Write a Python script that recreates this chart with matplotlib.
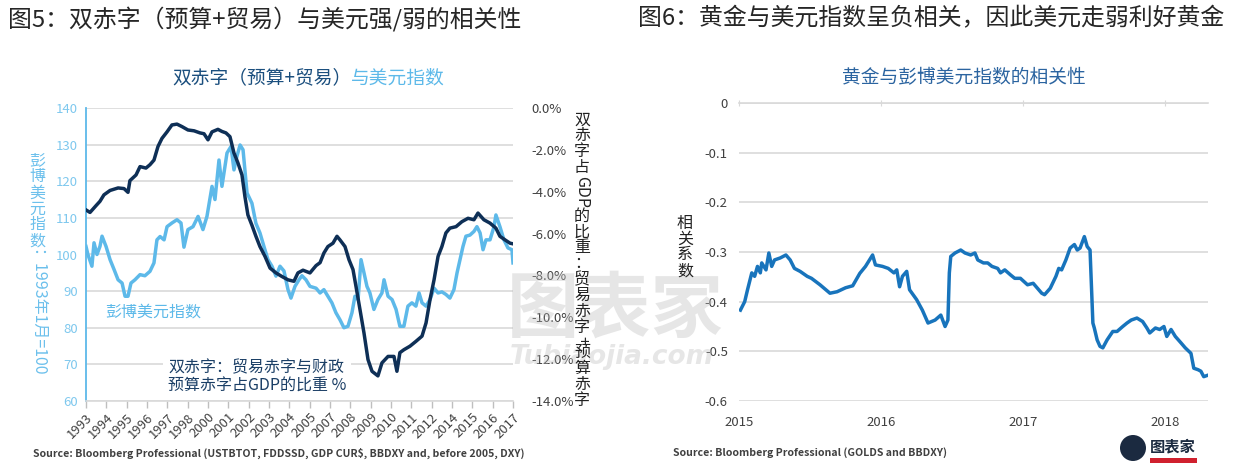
"""Recreation: twin-deficit vs dollar index, and gold / BBDXY correlation."""

import matplotlib

matplotlib.use("Agg")

import matplotlib.pyplot as plt
import numpy as np
from matplotlib.patches import Ellipse, Rectangle

plt.rcParams["font.family"] = ["Noto Sans CJK SC", "DejaVu Sans"]

W, H = 1233, 473

# --- figure 5: Bloomberg dollar index (left axis, 1993-01 = 100) ---
DXY_YEAR = [1993.00, 1993.11, 1993.34, 1993.46, 1993.63, 1993.80, 1993.92, 1994.15,
            1994.38, 1994.61, 1994.84, 1995.07, 1995.24, 1995.41, 1995.58, 1995.81,
            1996.10, 1996.38, 1996.67, 1996.90, 1997.07, 1997.25, 1997.48, 1997.65,
            1997.93, 1998.22, 1998.45, 1998.62, 1998.85, 1999.14, 1999.43, 1999.71,
            1999.94, 2000.23, 2000.40, 2000.63, 2000.80, 2001.09, 2001.32, 2001.49,
            2001.66, 2001.84, 2002.01, 2002.24, 2002.52, 2002.75, 2002.98, 2003.21,
            2003.44, 2003.67, 2003.90, 2004.13, 2004.36, 2004.59, 2004.76, 2004.99,
            2005.22, 2005.39, 2005.62, 2005.85, 2006.20, 2006.43, 2006.65, 2006.88,
            2007.11, 2007.34, 2007.57, 2007.80, 2008.03, 2008.26, 2008.43, 2008.61,
            2008.78, 2008.95, 2009.12, 2009.29, 2009.52, 2009.75, 2009.98, 2010.10,
            2010.33, 2010.56, 2010.79, 2011.01, 2011.24, 2011.47, 2011.70, 2011.93,
            2012.11, 2012.28, 2012.51, 2012.74, 2012.97, 2013.20, 2013.42, 2013.65,
            2013.88, 2014.11, 2014.29, 2014.46, 2014.63, 2014.80, 2015.03, 2015.26,
            2015.43, 2015.61, 2015.78, 2015.95, 2016.18, 2016.41, 2016.52, 2016.75,
            2016.98, 2017.21, 2017.44, 2017.50]
DXY = [102.2, 100.0, 96.8, 103.2, 100.0, 102.2, 105.0, 102.2,
       98.6, 95.9, 93.1, 92.2, 88.6, 88.6, 92.2, 93.1,
       94.5, 94.2, 95.4, 97.7, 104.0, 104.9, 104.0, 107.6,
       108.6, 109.5, 108.6, 102.0, 106.8, 107.6, 110.4, 106.8,
       110.4, 118.6, 115.0, 125.8, 118.6, 127.7, 129.5, 123.1,
       126.8, 129.9, 128.6, 116.8, 114.0, 108.5, 105.9, 102.2,
       98.6, 96.8, 94.1, 96.8, 95.5, 90.4, 88.1, 91.3,
       93.1, 94.2, 93.1, 91.3, 90.8, 89.5, 90.4, 88.6,
       86.8, 84.1, 82.2, 80.0, 80.4, 84.1, 88.6, 87.7,
       98.6, 95.0, 91.3, 89.5, 85.0, 87.7, 89.5, 93.1,
       88.6, 87.7, 85.0, 80.4, 80.4, 85.9, 86.8, 85.9,
       89.5, 86.8, 85.9, 87.7, 90.8, 89.5, 89.8, 89.1,
       88.1, 90.4, 95.0, 98.6, 102.2, 105.0, 105.3, 106.3,
       107.6, 105.9, 101.3, 104.0, 104.0, 107.6, 110.8, 107.6,
       104.0, 101.8, 101.3, 97.7]

# --- figure 5: twin deficit as % of GDP (right axis) ---
DEF_YEAR = [1993.00, 1993.23, 1993.57, 1993.80, 1994.03, 1994.38, 1994.84, 1995.18,
            1995.41, 1995.52, 1995.87, 1996.10, 1996.44, 1996.67, 1996.90, 1997.13,
            1997.36, 1997.65, 1997.93, 1998.22, 1998.51, 1998.85, 1999.20, 1999.54,
            1999.77, 2000.00, 2000.23, 2000.57, 2000.80, 2001.03, 2001.26, 2001.49,
            2001.72, 2001.95, 2002.12, 2002.29, 2002.52, 2002.75, 2002.98, 2003.27,
            2003.56, 2003.90, 2004.24, 2004.59, 2004.93, 2005.16, 2005.45, 2005.85,
            2006.20, 2006.43, 2006.65, 2006.88, 2007.17, 2007.40, 2007.57, 2007.86,
            2008.09, 2008.32, 2008.49, 2008.72, 2008.95, 2009.18, 2009.41, 2009.75,
            2009.98, 2010.33, 2010.67, 2010.84, 2011.01, 2011.24, 2011.59, 2011.93,
            2012.28, 2012.51, 2012.74, 2012.97, 2013.20, 2013.42, 2013.65, 2013.88,
            2014.23, 2014.57, 2014.92, 2015.26, 2015.49, 2015.83, 2016.18, 2016.52,
            2016.75, 2017.04, 2017.33, 2017.50]
DEF_PCT = [-4.87, -4.99, -4.67, -4.46, -4.15, -3.94, -3.82, -3.85,
           -4.03, -3.47, -3.20, -2.80, -2.87, -2.71, -2.49, -1.84,
           -1.45, -1.14, -0.81, -0.77, -0.89, -1.05, -1.09, -1.19,
           -1.23, -1.52, -1.14, -1.02, -1.12, -1.19, -1.37, -2.15,
           -2.63, -3.20, -4.24, -5.11, -5.60, -6.13, -6.62, -7.09,
           -7.65, -7.88, -8.05, -8.21, -8.28, -7.88, -7.75, -7.88,
           -7.53, -7.39, -6.93, -6.62, -6.46, -6.13, -6.30, -6.62,
           -7.25, -7.72, -8.52, -9.63, -10.75, -12.02, -12.58, -12.80,
           -12.18, -11.87, -11.87, -12.58, -11.69, -11.55, -11.38, -11.15,
           -10.90, -10.27, -9.15, -8.21, -7.09, -6.62, -5.97, -5.74,
           -5.67, -5.43, -5.27, -5.34, -5.02, -5.34, -5.50, -5.74,
           -6.13, -6.30, -6.46, -6.49]

# Excel category-style labels (one tick every 14 months, so some years are skipped)
X5_LABELS = ["1993", "1994", "1995", "1996", "1997", "1998", "2000", "2001", "2002",
             "2003", "2004", "2005", "2007", "2008", "2009", "2010", "2011", "2012",
             "2014", "2015", "2016", "2017"]

# --- figure 6: gold vs BBDXY rolling correlation ---
CORR_YEAR = [2015.01, 2015.04, 2015.06, 2015.09, 2015.11, 2015.13, 2015.15, 2015.16,
             2015.19, 2015.21, 2015.23, 2015.25, 2015.29, 2015.33, 2015.36, 2015.39,
             2015.43, 2015.48, 2015.51, 2015.57, 2015.64, 2015.69, 2015.75, 2015.80,
             2015.85, 2015.89, 2015.94, 2015.96, 2016.01, 2016.05, 2016.09, 2016.11,
             2016.13, 2016.15, 2016.18, 2016.20, 2016.25, 2016.29, 2016.33, 2016.38,
             2016.42, 2016.45, 2016.47, 2016.48, 2016.49, 2016.52, 2016.56, 2016.59,
             2016.63, 2016.66, 2016.68, 2016.72, 2016.75, 2016.78, 2016.82, 2016.84,
             2016.87, 2016.91, 2016.94, 2016.98, 2017.03, 2017.07, 2017.10, 2017.13,
             2017.15, 2017.19, 2017.23, 2017.25, 2017.27, 2017.30, 2017.33, 2017.36,
             2017.38, 2017.40, 2017.43, 2017.45, 2017.47, 2017.49, 2017.50, 2017.52,
             2017.54, 2017.56, 2017.59, 2017.63, 2017.66, 2017.70, 2017.73, 2017.76,
             2017.80, 2017.84, 2017.87, 2017.89, 2017.93, 2017.96, 2017.99, 2018.01,
             2018.04, 2018.07, 2018.11, 2018.14, 2018.18, 2018.20, 2018.23, 2018.25,
             2018.27, 2018.30]
CORR = [-0.417, -0.400, -0.376, -0.342, -0.349, -0.329, -0.342, -0.322,
        -0.336, -0.302, -0.329, -0.316, -0.312, -0.306, -0.316, -0.333,
        -0.339, -0.349, -0.353, -0.366, -0.383, -0.380, -0.372, -0.368,
        -0.343, -0.329, -0.306, -0.326, -0.329, -0.333, -0.342, -0.336,
        -0.370, -0.349, -0.339, -0.376, -0.396, -0.417, -0.443, -0.437,
        -0.427, -0.450, -0.437, -0.342, -0.309, -0.302, -0.296, -0.302,
        -0.306, -0.302, -0.316, -0.322, -0.322, -0.329, -0.333, -0.342,
        -0.336, -0.346, -0.353, -0.353, -0.366, -0.363, -0.373, -0.383,
        -0.386, -0.373, -0.349, -0.333, -0.336, -0.316, -0.292, -0.285,
        -0.296, -0.292, -0.269, -0.289, -0.296, -0.443, -0.453, -0.477,
        -0.490, -0.493, -0.477, -0.460, -0.460, -0.450, -0.443, -0.437,
        -0.433, -0.440, -0.453, -0.463, -0.453, -0.456, -0.450, -0.470,
        -0.456, -0.470, -0.483, -0.493, -0.504, -0.534, -0.537, -0.540,
        -0.551, -0.548]
X6_LABELS = ["2015", "2016", "2017", "2018"]

LIGHT = "#5DB9E9"
NAVY = "#0E2F56"
CORR_BLUE = "#1874BC"
GRID = "#D9D9D9"
TICK = "#404040"


def fx(x):
    return x / W


def fy(y):
    return 1 - y / H


def stacked_label(fig, x, y, parts, size, color):
    """Vertical label: CJK upright one per line, latin runs turned -90."""
    renderer = fig.canvas.get_renderer()
    em = size * fig.dpi / 72
    for text, turned in parts:
        if turned:
            t = fig.text(fx(x), fy(y), text, rotation=-90, ha="center", va="top",
                         fontsize=size, color=color)
            y += t.get_window_extent(renderer).height
        else:
            for ch in text:
                fig.text(fx(x), fy(y + em / 2), ch, ha="center", va="center",
                         fontsize=size, color=color)
                y += em


fig = plt.figure(figsize=(W / 100, H / 100), dpi=100)

# watermark sits under everything else
fig.text(fx(615), fy(310), "图表家", fontsize=52, fontweight="bold", color="#B8B8B8",
         alpha=0.35, ha="center", va="center", zorder=0)
fig.text(fx(612), fy(357), "Tubiaojia.com", fontsize=19, fontweight="bold",
         style="italic", family="DejaVu Sans", color="#B8B8B8", alpha=0.35,
         ha="center", va="center", zorder=0)

# ---------------- left panel ----------------
ax = fig.add_axes([fx(86), fy(401), 427 / W, 293 / H])
ax.patch.set_alpha(0)
ax.plot(DXY_YEAR, DXY, color=LIGHT, lw=2.5, solid_joinstyle="round")
ax.set_xlim(1993, 2017.5)
ax.set_ylim(60, 140)
ax.set_yticks(range(60, 141, 10))
ax.grid(axis="y", color=GRID, lw=1.2)
ax.set_axisbelow(True)
for s in ("top", "right"):
    ax.spines[s].set_visible(False)
ax.spines["left"].set_color(LIGHT)
ax.spines["left"].set_linewidth(1.3)
ax.spines["bottom"].set_color(GRID)
ax.spines["bottom"].set_linewidth(1.2)
ax.tick_params(axis="y", length=0, pad=6, labelsize=9.5, labelcolor="#7EC8EE")
ax.set_xticks(np.linspace(1993, 2017.5, len(X5_LABELS)))
ax.set_xticklabels(X5_LABELS, rotation=45, ha="right", rotation_mode="anchor")
ax.tick_params(axis="x", length=5, color="#BFBFBF", width=1, pad=2,
               labelsize=9.5, labelcolor=TICK)

ax2 = ax.twinx()
ax2.plot(DEF_YEAR, DEF_PCT, color=NAVY, lw=2.5, solid_joinstyle="round")
ax2.set_ylim(-14, 0)
ticks2 = np.arange(-14, 1, 2)
ax2.set_yticks(ticks2)
ax2.set_yticklabels([f"{abs(v):.1f}%" if v == 0 else f"{v:.1f}%" for v in ticks2])
ax2.tick_params(axis="y", length=0, pad=13, labelsize=9.5, labelcolor=TICK)
for s in ax2.spines.values():
    s.set_visible(False)

fig.text(fx(105), fy(312), "彭博美元指数", fontsize=11.5, color=LIGHT,
         ha="left", va="center")
fig.text(fx(168), fy(377), "双赤字：贸易赤字与财政\n预算赤字占GDP的比重 %",
         fontsize=11.5, color="#1B3F66", ha="left", va="center", linespacing=1.15,
         bbox=dict(boxstyle="square,pad=0.3", facecolor="white", edgecolor="none"))

# ---------------- right panel ----------------
ax6 = fig.add_axes([fx(739), fy(401), 469 / W, 298 / H])
ax6.patch.set_alpha(0)
ax6.plot(CORR_YEAR, CORR, color=CORR_BLUE, lw=2.5, solid_joinstyle="round")
ax6.set_xlim(2015, 2018.30)
ax6.set_ylim(-0.6, 0)
yt6 = np.round(np.arange(-0.6, 0.01, 0.1), 1)
ax6.set_yticks(yt6)
ax6.set_yticklabels(["0" if v == 0 else f"{v:.1f}" for v in yt6])
ax6.grid(axis="y", color=GRID, lw=1.2)
ax6.set_axisbelow(True)
for s in ("bottom", "left", "right"):
    ax6.spines[s].set_visible(False)
ax6.spines["top"].set_color(GRID)
ax6.spines["top"].set_linewidth(1.2)
ax6.set_xticks(range(2015, 2019))
ax6.set_xticklabels(X6_LABELS)
ax6.tick_params(axis="x", top=True, bottom=False, labeltop=False, labelbottom=True,
                direction="inout", length=5, color=GRID, pad=8,
                labelsize=9.5, labelcolor=TICK)
ax6.tick_params(axis="y", length=0, pad=8, labelsize=9.5, labelcolor=TICK)

# ---------------- titles and labels ----------------
fig.text(fx(8), fy(19), "图5：双赤字（预算+贸易）与美元强/弱的相关性",
         fontsize=17.2, color="#262626", ha="left", va="center")
fig.text(fx(638), fy(19), "图6：黄金与美元指数呈负相关，因此美元走弱利好黄金",
         fontsize=17.2, color="#262626", ha="left", va="center")

renderer = fig.canvas.get_renderer()
t1 = fig.text(fx(172), fy(78), "双赤字（预算+贸易）", fontsize=13.5,
              color="#1B4F7E", ha="left", va="center")
x1 = t1.get_window_extent(renderer).x1
fig.text(x1 / W, fy(78), "与美元指数", fontsize=13.5, color=LIGHT,
         ha="left", va="center")
fig.text(fx(964), fy(78), "黄金与彭博美元指数的相关性", fontsize=13.5,
         color="#2B64A0", ha="center", va="center")

stacked_label(fig, 37, 153, [("彭博美元指数", False), ("：1993年1月=100", True)],
              11.5, "#6CC0EC")
stacked_label(fig, 582, 112, [("双赤字占", False), ("GDP", True),
                              ("的比重：贸易赤字", False), ("+", True),
                              ("预算赤字", False)], 11.5, "#222222")
stacked_label(fig, 685, 215, [("相关系数", False)], 11.5, "#222222")

fig.text(fx(33), fy(453),
         "Source: Bloomberg Professional (USTBTOT, FDDSSD, GDP CUR$, BBDXY and, before 2005, DXY)",
         fontsize=7.6, fontweight="bold", color=TICK, ha="left", va="center")
fig.text(fx(673), fy(453), "Source: Bloomberg Professional (GOLDS and BBDXY)",
         fontsize=7.6, fontweight="bold", color=TICK, ha="left", va="center")

# corner logo
fig.patches.append(Ellipse((fx(1133), fy(448)), 26 / W, 26 / H,
                           transform=fig.transFigure, facecolor="#1B2A40",
                           edgecolor="none"))
fig.patches.append(Rectangle((fx(1150), fy(463)), 47 / W, 5 / H,
                             transform=fig.transFigure, facecolor="#D0202E",
                             edgecolor="none"))
fig.text(fx(1173), fy(446), "图表家", fontsize=11, fontweight="bold",
         color="#1B2A40", ha="center", va="center")

fig.savefig("out.png", dpi=100)
